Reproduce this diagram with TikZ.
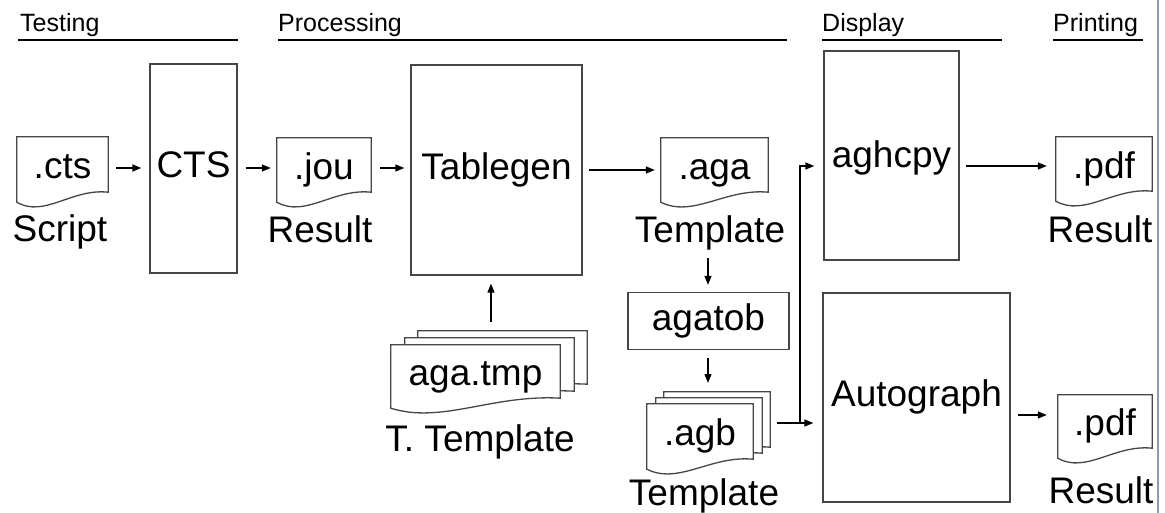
\documentclass[tikz,border=0pt]{standalone}
\usepackage{fontspec}
\setmainfont{Liberation Sans}
\usetikzlibrary{arrows.meta,calc}
\pgfdeclarelayer{background}
\pgfsetlayers{background,main}
\definecolor{boxgray}{RGB}{70,70,70}
\definecolor{edgeblue}{RGB}{140,155,180}
\tikzset{
  big/.style={font=\fontsize{37}{40}\selectfont, text height=26.6pt, text depth=7.8pt, inner sep=0pt},
  head/.style={font=\fontsize{25}{28}\selectfont, inner sep=0pt, anchor=base west},
  lbl/.style={font=\fontsize{37}{40}\selectfont, inner sep=0pt, anchor=base},
  procbox/.style={draw=boxgray, line width=1.3pt, inner sep=0pt},
  docnode/.style={big, draw=none},
  docline/.style={draw=boxgray, line width=1.3pt, fill=white},
  hline/.style={line width=2pt, black},
  arr/.style={draw=black, line width=1.3pt, -{Triangle[length=9pt,width=7pt]}},
}
\newcommand{\docoutline}[3]{%
  \draw[docline] let \p1=(#1.south west), \p2=(#1.north east) in
    (\x1+#2,\y1+#3) -- (\x1+#2,\y2+#3) -- (\x2+#2,\y2+#3) -- (\x2+#2,\y1+#3+10pt)
    .. controls (\x1+#2+0.6*\x2-0.6*\x1, \y1+#3+14pt) and (\x1+#2+0.3*\x2-0.3*\x1, \y1+#3-16pt) ..
    (\x1+#2,\y1+#3) -- cycle;
}
\begin{document}
\begin{tikzpicture}[x=1pt,y=-1pt]
\useasboundingbox (0,0) rectangle (1165,513);

% headers
\node[head] (hTest) at (20,32) {Testing};
\node[head] (hProc) at (278,32) {Processing};
\node[head] (hDisp) at (822,32) {Display};
\node[head] (hPrint) at (1053,32) {Printing};
\draw[hline] (18,40) -- (238,40);
\draw[hline] (278,40) -- (787,40);
\draw[hline] (822,40) -- (1002,40);
\draw[hline] (1053,40) -- (1143,40);

% right edge
\draw[edgeblue, line width=1.2pt] (1158,0) -- (1158,513);

% process boxes
\node[procbox, big, minimum width=87pt, minimum height=209pt] (CTS) at (193.5,168.5) {CTS};
\node[procbox, big, minimum width=171pt, minimum height=210pt] (Tab) at (496.5,170) {Tablegen};
\node[procbox, big, minimum width=161pt, minimum height=57pt] (agatob) at (708.5,321) {agatob};
\node[procbox, minimum width=135pt, minimum height=209pt] (aghcpy) at (891.5,155.5) {};
\node[big] (aghcpyt) at (891.5,158.6) {aghcpy};
\node[procbox, big, minimum width=187pt, minimum height=209pt] (Auto) at (916.5,397.5) {Autograph};

% documents
\node[docnode, minimum width=91pt, minimum height=65pt] (cts) at (62.5,169.5) {.cts};
\node[docnode, minimum width=94pt, minimum height=64pt] (jou) at (324,170) {.jou};
\node[docnode, minimum width=107pt, minimum height=64pt] (aga) at (714.5,170) {.aga};
\node[docnode, minimum width=96pt, minimum height=64pt] (pdfa) at (1104,169) {.pdf};
\node[docnode, minimum width=94pt, minimum height=63pt] (pdfb) at (1105,426.5) {.pdf};
\node[docnode, minimum width=169pt, minimum height=63pt] (tmp) at (475.5,376.5) {aga.tmp};
\node[docnode, minimum width=106pt, minimum height=65pt] (agb) at (700,436.5) {.agb};

\begin{pgfonlayer}{background}
\docoutline{cts}{0pt}{0pt}
\docoutline{jou}{0pt}{0pt}
\docoutline{aga}{0pt}{0pt}
\docoutline{pdfa}{0pt}{0pt}
\docoutline{pdfb}{0pt}{0pt}
\docoutline{tmp}{27pt}{14pt}
\docoutline{tmp}{14pt}{7pt}
\docoutline{tmp}{0pt}{0pt}
\docoutline{agb}{17pt}{12pt}
\docoutline{agb}{9pt}{6pt}
\docoutline{agb}{0pt}{0pt}
\end{pgfonlayer}

% labels
\node[lbl] (lScript) at (60,242) {Script};
\node[lbl] (lRes1) at (320,243) {Result};
\node[lbl] (lTplA) at (710,243) {Template};
\node[lbl] (lTT) at (480,451) {T. Template};
\node[lbl] (lTplB) at (704,505) {Template};
\node[lbl] (lRes2) at (1100,243) {Result};
\node[lbl] (lRes3) at (1101,503) {Result};

% helper coordinates
\coordinate (r1) at (0,168);
\coordinate (r2) at (0,170);
\coordinate (r3) at (0,166);
\coordinate (r4) at (0,415);
\coordinate (r5) at (0,423);
\coordinate (tmptop) at (491,331);
\coordinate (agbtop) at (708,391);
\coordinate (agbright) at (770,423);
\coordinate (jn) at (800,423);
\coordinate (agaTplBottom) at (708,251);

% connectors
\draw[arr, shorten <=8pt, shorten >=8pt] (cts.east |- r1) -- (CTS.west |- r1);
\draw[arr, shorten <=8pt, shorten >=6pt] (CTS.east |- r1) -- (jou.west |- r1);
\draw[arr, shorten <=9pt, shorten >=6pt] (jou.east |- r1) -- (Tab.west |- r1);
\draw[arr, shorten <=6pt, shorten >=6pt] (Tab.east |- r2) -- (aga.west |- r2);
\draw[arr, shorten <=7pt, shorten >=7pt] (agaTplBottom) -- (agaTplBottom |- agatob.north);
\draw[arr, shorten <=8pt, shorten >=8pt] (agaTplBottom |- agatob.south) -- (agbtop);
\draw[arr, shorten <=9pt, shorten >=8pt] (tmptop) -- (tmptop |- Tab.south);
\draw[arr, shorten <=7pt, shorten >=9pt] (agbright) -- (Auto.west |- r5);
\draw[arr, shorten >=9pt] (jn) |- (aghcpy.west |- r3);
\draw[arr, shorten <=6pt, shorten >=9pt] (aghcpy.east |- r3) -- (pdfa.west |- r3);
\draw[arr, shorten <=7pt, shorten >=11pt] (Auto.east |- r4) -- (pdfb.west |- r4);
\end{tikzpicture}
\end{document}
